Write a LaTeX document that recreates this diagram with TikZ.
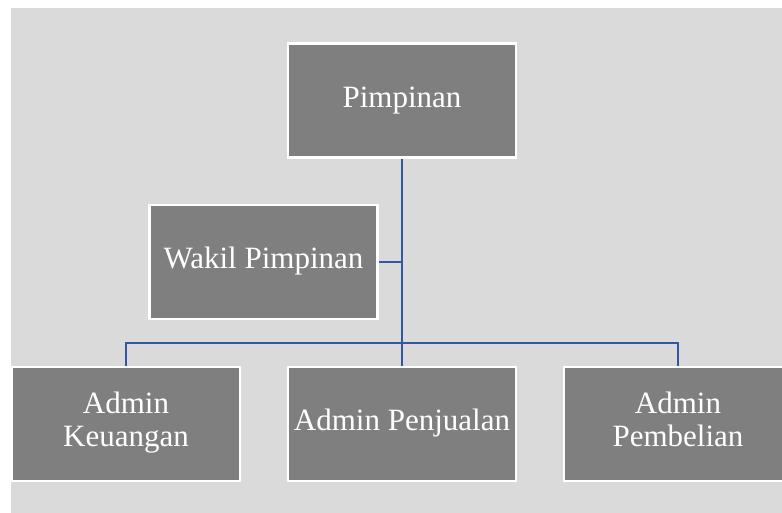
\documentclass[tikz,border=0pt]{standalone}
\usepackage{fontspec}
\setmainfont{Liberation Serif}
\usepackage{tikz}
\usetikzlibrary{positioning}
\definecolor{bgGray}{RGB}{218,218,218}
\definecolor{boxGray}{RGB}{127,127,127}
\definecolor{lineBlue}{RGB}{50,88,165}

\begin{document}
\begin{tikzpicture}[x=1pt, y=-1pt,
      unit/.style={draw=white, line width=2.5pt, fill=boxGray, text=white,
          font=\fontsize{31}{33}\selectfont, inner sep=0pt, align=center,
          minimum width=228pt, minimum height=114pt,
          execute at begin node=\strut, execute at end node=\strut},
      conn/.style={draw=lineBlue, line width=2.5pt},
    ]
    \clip (0,0) rectangle (782,513);
    \fill[bgGray] (11,8) rectangle (782,513);

    % ---- Top level ----
    \node[unit] (P) at (402, 100.5) {Pimpinan};
    \node[unit] (W) at (263.5, 262) {Wakil Pimpinan};

    % ---- Bottom row (centres 276 apart) ----
    \node[unit] (K) at (126, 424) {Admin\\Keuangan};
    \node[unit] (J) at (402, 424) {Admin Penjualan};
    \node[unit] (B) at (678, 424) {Admin\\Pembelian};

    % ---- Connectors ----
    \coordinate (bar) at (402, 343);
    \draw[conn] (P.south) -- (J.north);
    \draw[conn] (W.east) -- (W.east -| P.south);
    \draw[conn] (K.north) |- (bar) -| (B.north);

  \end{tikzpicture}
\end{document}
